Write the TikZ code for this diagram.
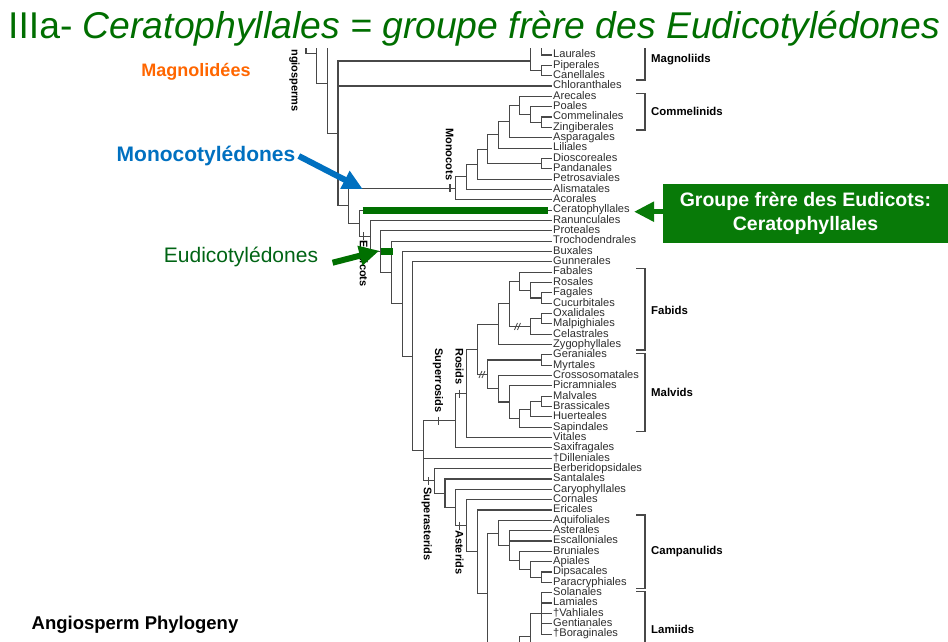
\documentclass[tikz,border=0pt]{standalone}
\usepackage{fontspec}
\setmainfont{Liberation Sans}
\usetikzlibrary{arrows.meta}

\definecolor{titlegreen}{RGB}{0,110,0}
\definecolor{boxgreen}{RGB}{8,122,8}
\definecolor{bargreen}{RGB}{0,112,0}
\definecolor{eudigreen}{RGB}{0,100,20}
\definecolor{monoblue}{RGB}{0,112,192}
\definecolor{magorange}{RGB}{255,102,0}
\definecolor{treegray}{RGB}{72,72,72}
\definecolor{leafgray}{RGB}{45,45,45}

\tikzset{
  branch/.style={line width=1.1pt, draw=treegray},
  leaf/.style={anchor=west, inner xsep=1.5pt, inner ysep=0pt, text height=8pt, text depth=2.3pt,
    text=leafgray, font=\fontsize{11.1}{12}\selectfont},
  cladelbl/.style={anchor=west, inner sep=0pt, font=\bfseries\fontsize{11.4}{13}\selectfont},
  rotlbl/.style={rotate=-90, inner sep=0pt, font=\bfseries\fontsize{11}{13}\selectfont},
  fatarrow/.style={line width=6pt, -{Triangle[length=20pt,width=19pt]}},
  hilite/.style={line width=7pt, draw=bargreen}
}

\begin{document}
\begin{tikzpicture}[x=1pt,y=-1pt]
\useasboundingbox (0,0) rectangle (948,641);

% title
\node[anchor=base west, inner sep=0pt, text=titlegreen, font=\fontsize{37.3}{40}\selectfont] (title) at (8,38)
  {IIIa- \textit{Ceratophyllales = groupe frère des Eudicotylédones}};

% leaves
\foreach \nm/\txt [count=\i from 0] in {Laurales, Piperales, Canellales, Chloranthales, Arecales, Poales,
  Commelinales, Zingiberales, Asparagales, Liliales, Dioscoreales, Pandanales, Petrosaviales, Alismatales,
  Acorales, Ceratophyllales, Ranunculales, Proteales, Trochodendrales, Buxales, Gunnerales, Fabales, Rosales,
  Fagales, Cucurbitales, Oxalidales, Malpighiales, Celastrales, Zygophyllales, Geraniales, Myrtales,
  Crossosomatales, Picramniales, Malvales, Brassicales, Huerteales, Sapindales, Vitales, Saxifragales,
  Dilleniales/\dag Dilleniales, Berberidopsidales, Santalales, Caryophyllales, Cornales, Ericales, Aquifoliales,
  Asterales, Escalloniales, Bruniales, Apiales, Dipsacales, Paracryphiales, Solanales, Lamiales,
  Vahliales/\dag Vahliales, Gentianales, Boraginales/\dag Boraginales}
  \node[leaf] (\nm) at (551.5,{55+10.34*\i}) {\txt};

% inner nodes
\coordinate (angTop) at (306,48);
\coordinate (ang) at (316.6,53.3);
\coordinate (angTop2) at (316.6,48);
\coordinate (ang2) at (327.3,83.3);
\coordinate (angTop3) at (327.3,48);
\coordinate (mesang) at (338,133.7);
\coordinate (magno) at (530.6,61);
\coordinate (magTop) at (530.6,48);
\coordinate (lauTop) at (541.3,48);
\coordinate (pipcan) at (541.3,70.5);
\coordinate (monoEu) at (348.7,205.7);
\coordinate (mono) at (455.7,188.3);
\coordinate (mA) at (466.4,176.8);
\coordinate (mB) at (477.1,164.2);
\coordinate (mC) at (487.8,149.2);
\coordinate (dioPan) at (541.3,163.6);
\coordinate (mD) at (498.5,134.8);
\coordinate (mE) at (509.2,121.6);
\coordinate (commel) at (519.9,105.4);
\coordinate (cG) at (530.6,114.5);
\coordinate (cH) at (541.3,122.2);
\coordinate (cerEu) at (359.4,223.1);
\coordinate (eudi) at (370.1,236.1);
\coordinate (eP1) at (380.8,251.7);
\coordinate (eP2) at (391.5,272.5);
\coordinate (eP3) at (402.2,303.9);
\coordinate (eP4) at (412.9,356.3);
\coordinate (penta) at (423.6,450.8);
\coordinate (srosid) at (455.7,420.7);
\coordinate (rosids) at (466.4,393.5);
\coordinate (rosCore) at (477.1,349.3);
\coordinate (fabids) at (498.5,324.2);
\coordinate (fA) at (509.2,303.8);
\coordinate (fB) at (519.9,281.2);
\coordinate (fC) at (530.6,290.2);
\coordinate (fD) at (541.3,298.0);
\coordinate (com) at (530.6,326.4);
\coordinate (oxMal) at (541.3,318.7);
\coordinate (malvids) at (487.8,374.4);
\coordinate (gerMyr) at (541.3,360.0);
\coordinate (mvA) at (498.5,388.8);
\coordinate (mvB) at (509.2,402.0);
\coordinate (mvC) at (519.9,418.2);
\coordinate (mvD) at (530.6,409.1);
\coordinate (mvE) at (541.3,401.4);
\coordinate (sast) at (434.3,480.9);
\coordinate (aU) at (445,493.2);
\coordinate (aV) at (455.7,507.4);
\coordinate (asterids) at (466.4,525.6);
\coordinate (aX) at (477.1,551.6);
\coordinate (euast) at (487.8,593.3);
\coordinate (lamCut) at (487.8,645);
\coordinate (campan) at (498.5,533.2);
\coordinate (cpA) at (509.2,545.7);
\coordinate (cpB) at (519.9,560.2);
\coordinate (cpC) at (530.6,569.3);
\coordinate (cpD) at (541.3,577.2);
\coordinate (lmA) at (541.3,613.4);
\coordinate (lmB) at (530.6,636.5);
\coordinate (lmBcut) at (530.6,645);
\coordinate (lmCcut) at (519.9,645);

\begin{scope}[branch]
% basal angiosperms
\draw (angTop) |- (ang);
\draw (angTop2) |- (ang2);
\draw (angTop3) |- (mesang);
\draw (mesang) |- (magno) (mesang) |- (Chloranthales) (mesang) |- (monoEu);
\draw (magTop) |- (pipcan);
\draw (lauTop) |- (Laurales);
\draw (pipcan) |- (Piperales) (pipcan) |- (Canellales);
% monocots
\draw (monoEu) |- (mono) (monoEu) |- (cerEu);
\draw (mono) |- (Acorales) (mono) |- (mA);
\draw (mA) |- (Alismatales) (mA) |- (mB);
\draw (mB) |- (Petrosaviales) (mB) |- (mC);
\draw (mC) |- (dioPan) (mC) |- (mD);
\draw (dioPan) |- (Dioscoreales) (dioPan) |- (Pandanales);
\draw (mD) |- (Liliales) (mD) |- (mE);
\draw (mE) |- (Asparagales) (mE) |- (commel);
\draw (commel) |- (Arecales) (commel) |- (cG);
\draw (cG) |- (Poales) (cG) |- (cH);
\draw (cH) |- (Commelinales) (cH) |- (Zingiberales);
% eudicots
\draw (cerEu) |- (Ceratophyllales) (cerEu) |- (eudi);
\draw (eudi) |- (Ranunculales) (eudi) |- (eP1);
\draw (eP1) |- (Proteales) (eP1) |- (eP2);
\draw (eP2) |- (Trochodendrales) (eP2) |- (eP3);
\draw (eP3) |- (Buxales) (eP3) |- (eP4);
\draw (eP4) |- (Gunnerales) (eP4) |- (penta);
\draw (penta) |- (srosid) (penta) |- (Dilleniales) (penta) |- (sast);
% rosids
\draw (srosid) |- (rosids) (srosid) |- (Saxifragales);
\draw (rosids) |- (rosCore) (rosids) |- (Vitales);
\draw (rosCore) |- (fabids) (rosCore) |- (malvids);
\draw (fabids) |- (fA) (fabids) |- (Zygophyllales);
\draw (fA) |- (fB) (fA) |- (com);
\draw (fB) |- (Fabales) (fB) |- (fC);
\draw (fC) |- (Rosales) (fC) |- (fD);
\draw (fD) |- (Fagales) (fD) |- (Cucurbitales);
\draw (com) |- (oxMal) (com) |- (Celastrales);
\draw (oxMal) |- (Oxalidales) (oxMal) |- (Malpighiales);
\draw (malvids) |- (gerMyr) (malvids) |- (mvA);
\draw (gerMyr) |- (Geraniales) (gerMyr) |- (Myrtales);
\draw (mvA) |- (Crossosomatales) (mvA) |- (mvB);
\draw (mvB) |- (Picramniales) (mvB) |- (mvC);
\draw (mvC) |- (mvD) (mvC) |- (Sapindales);
\draw (mvD) |- (mvE) (mvD) |- (Huerteales);
\draw (mvE) |- (Malvales) (mvE) |- (Brassicales);
% asterids
\draw (sast) |- (Berberidopsidales) (sast) |- (aU);
\draw (aU) |- (Santalales) (aU) |- (aV);
\draw (aV) |- (Caryophyllales) (aV) |- (asterids);
\draw (asterids) |- (Cornales) (asterids) |- (aX);
\draw (aX) |- (Ericales) (aX) |- (euast);
\draw (euast) |- (campan) (euast) -- (lamCut);
\draw (campan) |- (Aquifoliales) (campan) |- (cpA);
\draw (cpA) |- (Asterales) (cpA) |- (Escalloniales) (cpA) |- (cpB);
\draw (cpB) |- (Bruniales) (cpB) |- (cpC);
\draw (cpC) |- (Apiales) (cpC) |- (cpD);
\draw (cpD) |- (Dipsacales) (cpD) |- (Paracryphiales);
\draw (lmA) |- (Solanales) (lmA) |- (Lamiales) (lmA) |- (Vahliales) (lmA) |- (Gentianales) (lmA) |- (Boraginales);
\draw (lmBcut) |- (lmA);
\draw (lmCcut) |- (lmB);

% ticks and breaks
\foreach \tx/\ty in {450/188.3, 363.4/236.1, 438.3/420.7, 459.5/393.5, 428.3/480.9, 459.3/525.6}
  \draw (\tx,{\ty-4}) -- (\tx,{\ty+4});
\foreach \hx/\hy in {517/326.4, 481.5/374.4}
  \draw[line width=0.8pt] ({\hx-2.5},{\hy+3.5}) -- ({\hx+0.5},{\hy-3.5}) ({\hx+0.5},{\hy+3.5}) -- ({\hx+3.5},{\hy-3.5});

% brackets
\draw (645,48) |- (636,80);
\draw (636,93.3) -| (645,130) -- (636,130);
\draw (636,268.3) -| (645,350) -- (636,350);
\draw (636,353.3) -| (645,431.7) -- (636,431.7);
\draw (636,515) -| (645,588.3) -- (636,588.3);
\draw (636,591.5) -| (645,645);
\end{scope}

% clade names
\node[cladelbl] (magnoliids) at (651,60) {Magnoliids};
\node[cladelbl] (commelinids) at (651,111.7) {Commelinids};
\node[cladelbl] (fabidsLbl) at (651,310) {Fabids};
\node[cladelbl] (malvidsLbl) at (651,392.7) {Malvids};
\node[cladelbl] (campLbl) at (651,551.7) {Campanulids};
\node[cladelbl] (lamLbl) at (651,629.3) {Lamiids};

\node[rotlbl, anchor=east] (angLbl) at (294.5,112) {ngiosperms};
\node[rotlbl, anchor=east] (monoLbl) at (449.5,180.5) {Monocots};
\node[rotlbl, anchor=west] (eudiLbl) at (363.7,240) {Eudicots};
\node[rotlbl, anchor=east] (srosLbl) at (438,413) {Superrosids};
\node[rotlbl, anchor=east] (rosLbl) at (459.5,385) {Rosids};
\node[rotlbl, anchor=west] (sastLbl) at (426.7,487) {Superasterids};
\node[rotlbl, anchor=west] (astLbl) at (459.5,530) {Asterids};

% green highlights
\draw[hilite] (362.5,210.1) -- (548.3,210.1);
\draw[hilite] (380.5,251.7) -- (393.3,251.7);

% callouts
\node[font=\bfseries\fontsize{18}{20}\selectfont, text=magorange] (magnolabel) at (196,72) {Magnolidées};
\node[font=\bfseries\fontsize{21}{24}\selectfont, text=monoblue] (monolabel) at (206,156) {Monocotylédones};
\node[font=\fontsize{21}{24}\selectfont, text=eudigreen] (eudilabel) at (241,256.7) {Eudicotylédones};
\node[fill=boxgreen, text=white, align=center, minimum width=285pt, minimum height=59pt, inner sep=0pt,
  font=\bfseries\fontsize{19.5}{23.5}\selectfont] (ceratobox) at (805.5,213.5)
  {Groupe frère des Eudicots:\\Ceratophyllales};
\node[anchor=base west, inner sep=0pt, font=\bfseries\fontsize{18.5}{20}\selectfont] (phylo) at (31.5,629.5)
  {Angiosperm Phylogeny};

\coordinate (monotip) at (362.7,189);
\coordinate (euditip) at (379.3,250.7);
\coordinate (ceratotip) at (634,211.7);

\draw[fatarrow, monoblue] (monolabel.east) -- (monotip);
\draw[fatarrow, bargreen] ([shift={(11,6)}]eudilabel.east) -- (euditip);
\draw[fatarrow, line width=5pt, boxgreen] (ceratobox.west |- ceratotip) -- (ceratotip);
\end{tikzpicture}
\end{document}
